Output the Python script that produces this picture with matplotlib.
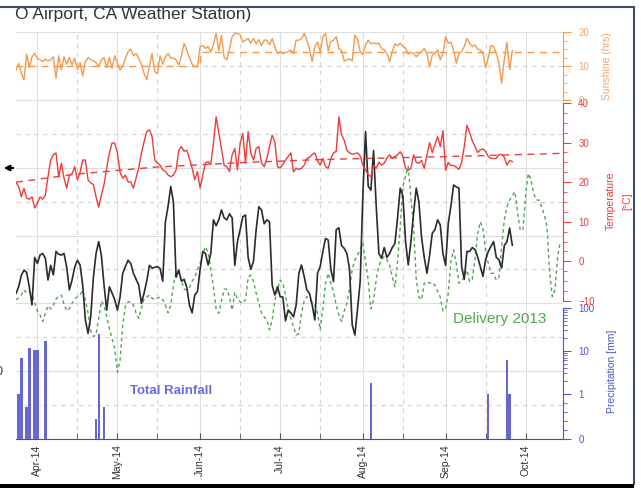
import numpy as np
import pandas as pd
import matplotlib
matplotlib.use("Agg")
import matplotlib.pyplot as plt
import matplotlib.dates as mdates
from matplotlib.ticker import FixedLocator, MultipleLocator
from matplotlib.patches import Rectangle
from matplotlib.lines import Line2D

plt.rcParams["font.family"] = ["Liberation Sans", "DejaVu Sans"]

start_date = "2014-03-24"

sunshine_hrs = [
    8.8, 10.8, 8.0, 5.9, 13.5, 9.5, 12.7, 13.7, 12.3, 11.8,
    11.3, 12.0, 11.5, 11.8, 12.7, 6.4, 13.0, 9.0, 12.7, 10.5,
    12.5, 10.3, 12.3, 9.0, 11.0, 7.0, 11.3, 12.5, 11.8, 11.5,
    11.0, 9.8, 11.8, 12.5, 9.5, 12.5, 9.3, 13.0, 10.8, 8.8,
    10.0, 12.3, 14.2, 15.0, 13.0, 13.7, 12.3, 10.5, 7.8, 6.0,
    9.8, 13.7, 8.3, 7.8, 13.0, 10.5, 12.7, 13.7, 12.3, 12.3,
    11.8, 10.3, 13.0, 16.7, 14.7, 12.5, 10.5, 9.8, 9.8, 15.7,
    16.0, 15.2, 15.7, 14.0, 16.5, 19.6, 14.5, 19.0, 12.5, 11.8,
    15.0, 18.6, 19.6, 19.6, 19.2, 17.0, 17.6, 18.1, 16.7, 18.1,
    16.5, 17.8, 16.0, 17.6, 17.6, 16.2, 18.1, 15.7, 13.7, 14.2,
    13.7, 14.0, 14.2, 14.7, 13.7, 17.6, 17.6, 18.0, 19.6, 17.6,
    15.0, 11.3, 15.7, 17.0, 14.2, 18.6, 19.6, 14.5, 17.2, 17.6,
    18.6, 15.2, 14.5, 11.5, 11.8, 12.1, 11.5, 19.1, 17.8, 14.2,
    13.4, 16.2, 17.6, 16.5, 16.8, 16.5, 16.7, 15.2, 14.7, 13.7,
    11.3, 14.2, 16.5, 16.0, 16.7, 15.8, 15.2, 13.5, 14.0, 13.7,
    12.7, 13.7, 14.2, 15.2, 13.7, 9.8, 13.2, 13.7, 14.7, 11.8,
    13.7, 18.6, 16.7, 17.0, 14.7, 10.8, 13.7, 14.2, 15.7, 18.1,
    16.7, 15.7, 16.2, 15.0, 14.7, 14.0, 9.5, 12.5, 16.0, 15.7,
    13.7, 10.8, 4.9, 12.0, 17.0, 9.0, 14.5,
]

temperature_c = [
    20.0, 18.9, 16.3, 18.5, 16.0, 15.7, 16.3, 13.5, 14.7, 16.3,
    15.7, 16.8, 21.4, 25.6, 26.9, 27.4, 21.4, 24.8, 21.0, 18.5,
    21.8, 22.1, 23.9, 20.6, 22.5, 25.6, 25.6, 20.6, 19.8, 19.4,
    16.3, 13.7, 16.8, 19.4, 23.6, 27.4, 29.9, 29.9, 27.4, 22.5,
    21.0, 21.8, 20.1, 20.1, 18.5, 21.0, 23.6, 27.4, 30.2, 32.8,
    33.2, 31.5, 25.6, 24.8, 24.3, 23.1, 22.7, 21.8, 21.4, 21.8,
    23.1, 28.1, 29.0, 27.8, 28.1, 26.0, 23.6, 20.6, 22.7, 18.5,
    21.8, 24.9, 25.2, 24.5, 29.9, 36.5, 32.4, 28.2, 24.3, 23.9,
    22.7, 26.9, 28.5, 23.1, 29.9, 32.3, 24.9, 32.8, 27.4, 25.6,
    28.5, 29.0, 24.9, 23.9, 26.0, 29.0, 31.9, 30.2, 23.9, 23.6,
    24.5, 25.6, 26.5, 27.4, 22.6, 23.5, 23.2, 23.5, 24.3, 26.0,
    26.3, 27.0, 27.4, 25.5, 24.3, 26.0, 24.0, 23.5, 26.0, 27.4,
    27.8, 36.5, 32.0, 30.6, 28.1, 27.4, 27.1, 27.2, 27.4, 26.6,
    24.3, 23.1, 21.9, 21.4, 24.3, 23.5, 25.1, 24.3, 24.8, 26.1,
    26.9, 26.1, 26.5, 26.9, 27.7, 26.5, 23.5, 23.0, 23.5, 26.9,
    25.0, 24.8, 25.5, 23.5, 26.8, 30.0, 27.5, 29.5, 31.5, 29.0,
    33.0, 23.0, 25.0, 24.2, 24.2, 23.8, 23.2, 25.0, 29.0, 34.4,
    32.5, 30.5, 29.0, 27.5, 28.2, 28.4, 27.8, 26.5, 26.0, 26.0,
    26.0, 27.0, 27.0, 26.3, 24.3, 25.5, 25.2,
]

black_series = [
    -8.1, -6.4, -3.5, -2.2, -2.8, -6.5, -11.0, 1.0, -0.5, 1.6,
    2.0, 0.8, -4.7, -1.0, -3.4, 2.5, 1.8, 1.6, 2.0, -1.5,
    -7.2, -4.7, -1.5, 0.3, -0.9, -6.0, -14.8, -18.2, -14.0, -4.0,
    2.0, 5.0, 1.5, -6.0, -12.3, -6.4, -8.0, -9.7, -12.3, -9.0,
    -3.0, -1.3, 0.3, -0.5, -3.0, -4.5, -6.0, -10.6, -8.0, -5.0,
    -1.0, -1.7, -1.5, -1.3, -1.8, -5.0, 10.0, 14.0, 18.9, 15.0,
    -4.0, -2.2, -5.0, -4.5, -6.5, -11.0, -13.0, -8.5, -7.6, -2.0,
    2.5, 2.0, -0.9, 2.0, 10.5, 9.0, 10.5, 13.0, 11.0, 10.5,
    12.0, 11.0, -1.0, 5.0, 8.0, 11.3, 11.7, 1.0, -2.0, 0.0,
    8.0, 13.8, 13.0, 9.5, 10.5, 10.0, -6.0, -8.5, -6.4, -8.9,
    -9.0, -15.0, -12.3, -13.0, -14.0, -11.0, -3.0, -0.9, -3.8, -7.2,
    -8.1, -11.0, -14.8, -3.0, -1.3, 2.5, 5.8, 5.4, -2.0, -5.1,
    8.0, 8.5, 4.0, 3.3, 2.0, -2.0, -16.0, -18.6, -12.0, -5.0,
    17.0, 32.8, 19.0, 18.0, 28.0, 14.0, 2.0, 0.8, 3.5, 1.0,
    2.0, 3.5, 4.5, 11.0, 18.5, 16.5, 5.0, -0.9, 5.0, 12.1,
    18.5, 15.0, 6.0, 1.0, -3.0, 1.5, 7.1, 8.0, 10.5, 9.2,
    2.0, -1.0, 9.6, 14.0, 19.3, 18.8, 18.5, -1.3, -4.5, 2.5,
    2.5, 3.5, 3.0, 1.2, -1.3, -3.8, 0.5, 2.5, 3.8, 5.0,
    1.0, 0.4, -1.7, 4.0, 5.0, 8.4, 4.1,
]

delivery_2013 = [
    -9.7, -9.2, -8.5, -7.2, -8.0, -7.6, -8.5, -10.5, -12.5, -13.5,
    -15.2, -13.1, -11.2, -12.0, -11.0, -9.5, -8.9, -8.5, -10.8, -12.5,
    -12.0, -10.6, -9.5, -8.9, -8.5, -7.2, -9.7, -13.0, -17.5, -19.0,
    -18.5, -14.5, -10.0, -11.2, -13.9, -17.0, -19.5, -22.0, -28.0, -25.0,
    -16.0, -11.4, -10.2, -10.2, -11.0, -13.0, -14.4, -11.8, -9.5, -9.0,
    -8.5, -9.3, -9.7, -9.3, -9.0, -9.7, -11.0, -13.0, -11.0, -6.0,
    -2.5, -2.6, -5.0, -7.0, -7.2, -6.6, -5.0, -4.0, -2.0, -0.5,
    2.0, 3.7, 2.2, -2.0, -6.4, -12.0, -13.1, -10.0, -7.0, -7.0,
    -9.0, -12.3, -7.8, -9.5, -10.2, -10.6, -9.7, -4.0, -3.5, -5.0,
    -8.0, -10.6, -13.0, -14.0, -14.8, -17.3, -14.8, -10.0, -7.0, -4.7,
    -5.5, -8.5, -12.0, -14.5, -16.5, -18.6, -18.2, -13.0, -10.0, -8.9,
    -9.7, -10.3, -11.0, -13.0, -17.3, -12.0, -5.5, -3.0, -5.5, -7.6,
    -11.0, -13.5, -15.2, -12.5, -10.6, -7.0, -2.0, 0.4, 1.6, 3.0,
    4.6, 0.0, -4.7, -12.0, -9.7, -4.5, -1.2, 0.5, 1.2, 0.4,
    -0.9, -4.0, -6.4, 0.0, 8.8, 19.0, 21.5, 24.0, 16.0, 8.8,
    -4.5, -9.0, -9.7, -5.5, -5.1, -5.5, -5.3, -6.0, -7.5, -9.0,
    -12.5, -12.0, -8.1, 0.0, 2.9, -0.5, -5.5, -5.1, -3.8, -2.2,
    -5.1, -4.5, 0.4, 7.0, 10.0, 8.4, 2.5, -0.5, -3.0, -3.0,
    -4.7, -4.0, 3.7, 10.5, 13.8, 15.5, 16.5, 17.6, 12.1, 7.9,
    7.9, 17.0, 22.2, 20.5, 17.2, 15.5, 15.5, 13.8, 11.7, 8.8,
    -3.0, -8.9, -7.2, 1.2, 5.0,
]

rain_dates = ["2014-03-25", "2014-03-26", "2014-03-28", "2014-03-29", "2014-03-31",
              "2014-04-01", "2014-04-04", "2014-04-23", "2014-04-24", "2014-04-26",
              "2014-08-04", "2014-09-17", "2014-09-24", "2014-09-25"]
rain_mm = [1.0, 7.0, 0.7, 12.0, 10.5, 10.5, 17.0, 0.45, 25.0, 0.7, 1.8, 1.0, 6.0, 1.0]

temp_normal_dates = ["2014-03-24", "2014-04-15", "2014-05-15", "2014-06-15",
                     "2014-07-15", "2014-08-15", "2014-09-15", "2014-10-15"]
temp_normal_c = [20.0, 22.0, 23.8, 24.9, 25.7, 26.2, 26.7, 27.3]

sun_normal_dates = ["2014-03-24", "2014-06-01", "2014-10-15"]
sun_normal_hrs = [10.1, 14.0, 14.0]

ORANGE = "#f39a4e"
ORANGE_TXT = "#f3a468"
RED = "#ee3b3b"
BLUE = "#5252d0"
BAR = "#6767d4"
GREEN = "#52a552"

W, H = 641, 488
def fx(px):
    return px / W
def fy(py):
    return 1 - py / H

# plot box in pixels
L, R, T, B = 16, 563, 32, 439

fig = plt.figure(figsize=(W / 100, H / 100), dpi=100)
ax = fig.add_axes([fx(L), fy(B), (R - L) / W, (B - T) / H])

ax.set_xlim(pd.Timestamp("2014-03-24"), pd.Timestamp("2014-10-15"))
ax.set_ylim(0, 12)
ax.yaxis.set_major_locator(MultipleLocator(2))
ax.yaxis.set_minor_locator(MultipleLocator(1))
ax.xaxis.set_major_locator(mdates.MonthLocator())
ax.xaxis.set_minor_locator(mdates.MonthLocator(bymonthday=16))
ax.xaxis.set_major_formatter(mdates.DateFormatter("%b-%y"))
ax.grid(which="major", color="#dedede", lw=0.8, ls="-")
ax.grid(which="minor", color="#d4d4d4", lw=0.8, ls=(0, (4, 4)))
ax.tick_params(axis="x", which="both", direction="in", length=4, color="#555555",
               labelsize=7.5, labelcolor="#333333", labelrotation=90, pad=4)
for s in ["top", "left", "right"]:
    ax.spines[s].set_visible(False)
ax.spines["bottom"].set_color("#555555")

ax_pr = ax.twinx()
ax_temp = ax.twinx()
ax_sun = ax.twinx()
ax.tick_params(axis="y", which="both", left=False, right=False, labelleft=False, labelright=False)

# precipitation (symlog)
lin_adj = 0.945 / 0.9
ppu = (B - 308) / (lin_adj + 2)
ax_pr.set_yscale("symlog", linthresh=1, linscale=0.945)
ax_pr.set_ylim(0, 10 ** ((B - T) / ppu - lin_adj))
rain_x = pd.to_datetime(rain_dates)
ax_pr.bar(rain_x, rain_mm, width=0.9, color=BAR, zorder=2)
ax_pr.yaxis.set_major_locator(FixedLocator([0, 1, 10, 100]))
ax_pr.yaxis.set_minor_locator(FixedLocator([0.2, 0.4, 0.6, 0.8] + list(range(2, 10)) + list(range(20, 100, 10))))
ax_pr.set_yticklabels(["0", "1", "10", "100"])
ax_pr.spines["right"].set_bounds(0, 100)
ax_pr.spines["right"].set_color(BLUE)

# temperature
ppt = (301 - 103) / 50
ax_temp.set_ylim(-10 - (B - 301) / ppt, 40 + (103 - T) / ppt)
ax_temp.plot(pd.date_range(start_date, periods=len(delivery_2013)), delivery_2013,
             color=GREEN, lw=1.0, ls=(0, (2.5, 2.2)))
ax_temp.plot(pd.date_range(start_date, periods=len(black_series)), black_series,
             color="#2b2b2b", lw=1.2)
ax_temp.plot(pd.date_range(start_date, periods=len(temperature_c)), temperature_c,
             color=RED, lw=1.0)
ax_temp.plot(pd.to_datetime(temp_normal_dates), temp_normal_c, color=RED, lw=1.0,
             ls=(0, (5, 4)))
ax_temp.yaxis.set_major_locator(FixedLocator(np.arange(-10, 41, 10)))
ax_temp.yaxis.set_minor_locator(FixedLocator(np.arange(-10, 40.1, 2.5)))
ax_temp.spines["right"].set_bounds(-10, 40)
ax_temp.spines["right"].set_color(RED)

# sunshine
pps = (100 - 32) / 20
ax_sun.set_ylim(-(B - 100) / pps, (100 - T) / pps)
ax_sun.plot(pd.date_range(start_date, periods=len(sunshine_hrs)), sunshine_hrs,
            color=ORANGE, lw=1.0)
ax_sun.plot(pd.to_datetime(sun_normal_dates), sun_normal_hrs, color=ORANGE, lw=1.0,
            ls=(0, (5, 4)), drawstyle="steps-post")
ax_sun.yaxis.set_major_locator(FixedLocator([0, 10, 20]))
ax_sun.yaxis.set_minor_locator(FixedLocator([2.5, 5, 7.5, 12.5, 15, 17.5]))
ax_sun.spines["right"].set_bounds(0, 20)
ax_sun.spines["right"].set_color(ORANGE)

for a, c, tc in [(ax_pr, BLUE, BLUE), (ax_temp, RED, RED), (ax_sun, ORANGE, ORANGE_TXT)]:
    for s in ["top", "left", "bottom"]:
        a.spines[s].set_visible(False)
    a.tick_params(axis="y", which="major", colors=c, labelcolor=tc, labelsize=7,
                  length=6, width=0.8, pad=5)
    a.tick_params(axis="y", which="minor", colors=c, length=3, width=0.6)

fig.text(fx(607), fy(66), "Sunshine (hrs)", rotation=90, ha="center", va="center",
         color=ORANGE_TXT, fontsize=7.5)
fig.text(fx(619), fy(201), "Temperature\n[°C]", rotation=90, ha="center", va="center",
         color=RED, fontsize=7.5, linespacing=1.7, multialignment="center")
fig.text(fx(612), fy(371), "Precipitation [mm]", rotation=90, ha="center", va="center",
         color=BLUE, fontsize=7.5)

fig.text(fx(130), fy(391), "Total Rainfall", ha="left", va="center", color="#6b6be0",
         fontsize=9.5, fontweight="bold")
fig.text(fx(453), fy(319), "Delivery 2013", ha="left", va="center", color=GREEN,
         fontsize=11)

fig.text(fx(15), fy(18.5), "O Airport, CA Weather Station)", ha="left", va="baseline",
         color="#333333", fontsize=12.5)
fig.text(fx(-4), fy(372), "0", ha="left", va="center", color="#333333", fontsize=9)
ax.annotate("", xy=(1, H - 168), xytext=(16, H - 168), xycoords="figure pixels",
            textcoords="figure pixels",
            arrowprops=dict(arrowstyle="-|>", color="black", lw=1.5, mutation_scale=8))

# screenshot frame
fig.add_artist(Rectangle((0, fy(6)), 1, 1 - fy(6), transform=fig.transFigure,
                         facecolor="white", edgecolor="none", zorder=10))
fig.add_artist(Line2D([fx(0), fx(634)], [fy(6.5), fy(6.5)], color="#3d4b6b", lw=1.5, zorder=11))
fig.add_artist(Line2D([fx(633.5), fx(633.5)], [fy(6.5), fy(484)], color="#3d4b6b", lw=1.5, zorder=11))
fig.add_artist(Rectangle((0, 0), fx(634), fy(484), transform=fig.transFigure,
                         facecolor="black", edgecolor="none", zorder=11))

fig.savefig("out.png", dpi=100)
